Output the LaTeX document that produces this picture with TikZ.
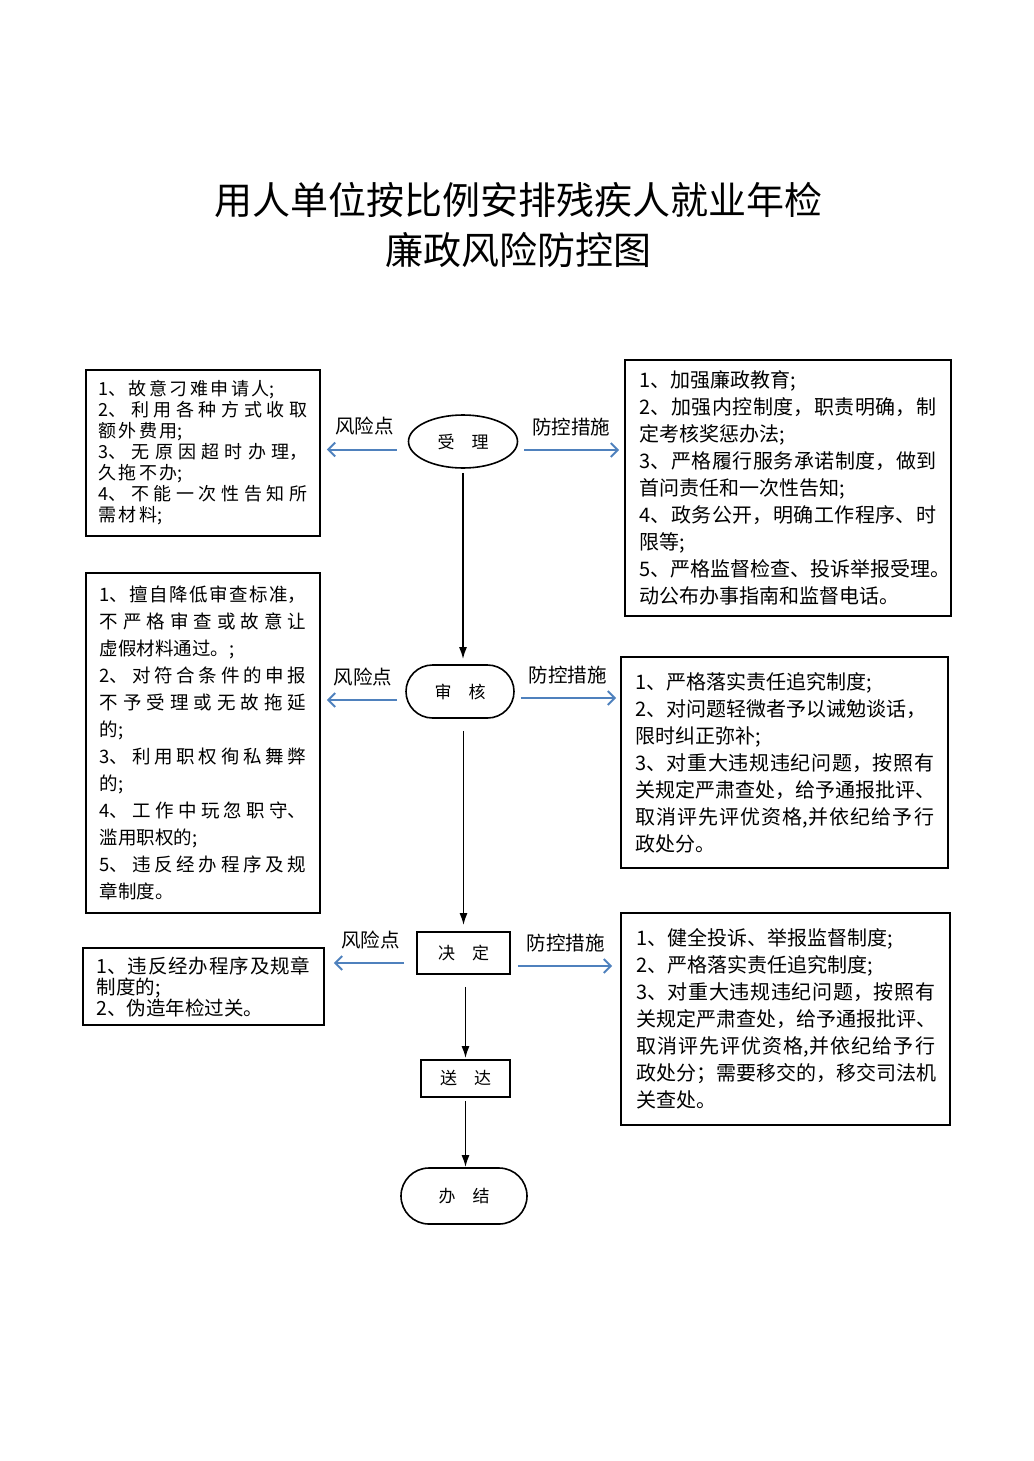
\documentclass[tikz,border=0pt]{standalone}
\usepackage{fontspec}
\setmainfont{Noto Sans CJK SC}
\XeTeXlinebreaklocale "zh"
\XeTeXlinebreakskip = 0pt plus 6pt
\tolerance = 9999
\usetikzlibrary{arrows.meta, shapes.geometric, shapes.misc}

\definecolor{arrowblue}{RGB}{79,129,189}

\newcommand{\boxfont}[2]{\fontsize{#1}{#2}\selectfont\parindent=0pt\relax}

\tikzset{
	textbox/.style = {draw, line width = 1.6pt, align = justify, inner ysep = 0pt},
	stage/.style = {draw, line width = 1.6pt, inner sep = 0pt, font = \boxfont{17}{17}},
	flow/.style = {line width = 1.8pt, -{Latex[length = 12pt, width = 8pt]}},
	bluearrow/.style = {arrowblue, line width = 2pt, -{Straight Barb[length = 7pt, width = 14pt]}},
	tag/.style = {text = black, inner sep = 0pt, above = 13pt, font = \boxfont{19.5}{19.5}}
}

\begin{document}
\begin{tikzpicture}[x = 1pt, y = -1pt]

	\useasboundingbox (0, 0) rectangle (1033, 1461);

	% Title

	\node [align = center, font = \boxfont{38}{50}] (title) at (518, 225)
		{用人单位按比例安排残疾人就业年检\\廉政风险防控图};

	% Steps

	\node [stage, ellipse, minimum width = 109pt, minimum height = 53pt] (shouli) at (463, 441.5) {受\hspace{1em}理};
	\node [stage, rounded rectangle, minimum width = 108pt, minimum height = 53pt] (shenhe) at (460, 691.5) {审\hspace{1em}核};
	\node [stage, minimum width = 93pt, minimum height = 42pt] (jueding) at (463.5, 953) {决\hspace{1em}定};
	\node [stage, minimum width = 89pt, minimum height = 37pt] (songda) at (465.5, 1078.5) {送\hspace{1em}达};
	\node [stage, rounded rectangle, minimum width = 126pt, minimum height = 56pt] (banjie) at (464, 1196) {办\hspace{1em}结};

	% Risk points

	\node [textbox, text width = 209pt, inner xsep = 12.5pt, minimum height = 166pt,
		font = {\boxfont{18}{21}\XeTeXlinebreakskip = 2.5pt plus 6pt}] (risk1) at (203, 453) {
		1、故意刁难申请人;\\
		2、利用各种方式收取\linebreak
		额外费用;\\
		3、无原因超时办理，\linebreak
		久拖不办;\\
		4、不能一次性告知所\linebreak
		需材料;};

	\node [textbox, text width = 207pt, inner xsep = 13.5pt, minimum height = 340pt, font = \boxfont{18.5}{27}] (risk2) at (203, 743) {
		1、擅自降低审查标准，\linebreak
		不严格审查或故意让\linebreak
		虚假材料通过。;\\
		2、对符合条件的申报\linebreak
		不予受理或无故拖延\linebreak
		的;\\
		3、利用职权徇私舞弊\linebreak
		的;\\
		4、工作中玩忽职守、\linebreak
		滥用职权的;\\
		5、违反经办程序及规\linebreak
		章制度。};

	\node [textbox, text width = 214pt, inner xsep = 13.5pt, minimum height = 77pt, font = \boxfont{19.5}{21}] (risk3) at (203.5, 986.5) {
		1、违反经办程序及规章\linebreak
		制度的;\\
		2、伪造年检过关。};

	% Control measures

	\node [textbox, text width = 297pt, inner xsep = 14.5pt, minimum height = 256pt, font = \boxfont{20}{27}] (ctrl1) at (788, 488) {
		1、加强廉政教育;\\
		2、加强内控制度，职责明确，制\linebreak
		定考核奖惩办法;\\
		3、严格履行服务承诺制度，做到\linebreak
		首问责任和一次性告知;\\
		4、政务公开，明确工作程序、时\linebreak
		限等;\\
		\mbox{5、严格监督检查、投诉举报受理。}\\
		动公布办事指南和监督电话。};

	\node [textbox, text width = 299pt, inner xsep = 14pt, minimum height = 211pt, font = \boxfont{20}{27}] (ctrl2) at (784.5, 762.5) {
		1、严格落实责任追究制度;\\
		2、对问题轻微者予以诫勉谈话，\\
		限时纠正弥补;\\
		3、对重大违规违纪问题，按照有\linebreak
		\mbox{关规定严肃查处，给予通报批评、}\\
		取消评先评优资格,并依纪给予行\linebreak
		政处分。};

	\node [textbox, text width = 299pt, inner xsep = 15pt, minimum height = 212pt, font = \boxfont{20}{27}] (ctrl3) at (785.5, 1019) {
		1、健全投诉、举报监督制度;\\
		2、严格落实责任追究制度;\\
		3、对重大违规违纪问题，按照有\linebreak
		\mbox{关规定严肃查处，给予通报批评、}\\
		取消评先评优资格,并依纪给予行\linebreak
		\mbox{政处分；需要移交的，移交司法机}\\
		关查处。};

	% Main flow

	\draw [flow, shorten <= 4pt, shorten >= 5pt] (shouli.south) -- (shouli.south |- shenhe.north);
	\draw [flow, shorten <= 12pt, shorten >= 6pt] (jueding.north |- shenhe.south) -- (jueding.north);
	\draw [flow, shorten <= 12pt, shorten >= 1pt] (songda.north |- jueding.south) -- (songda.north);
	\draw [flow, shorten <= 3pt] (songda.south) -- (songda.south |- banjie.north);

	% Side arrows

	\coordinate (a1) at ([yshift = -8pt] shouli.west);
	\coordinate (b1) at ([yshift = -8.5pt] shouli.east);
	\coordinate (a2) at ([yshift = -8.5pt] shenhe.west);
	\coordinate (b2) at ([yshift = -6.5pt] shenhe.east);
	\coordinate (a3) at ([yshift = -10pt] jueding.west);
	\coordinate (b3) at ([yshift = -13pt] jueding.east);

	\draw [bluearrow, shorten <= 11pt, shorten >= 6pt] (a1) -- (a1 -| risk1.east) node [tag, midway] (r1) {风险点};
	\draw [bluearrow, shorten <= 6pt, shorten >= 5pt] (b1) -- (b1 -| ctrl1.west) node [tag, midway] (c1) {防控措施};
	\draw [bluearrow, shorten <= 8pt, shorten >= 6pt] (a2) -- (a2 -| risk2.east) node [tag, midway] (r2) {风险点};
	\draw [bluearrow, shorten <= 6pt, shorten >= 4pt] (b2) -- (b2 -| ctrl2.west) node [tag, midway] (c2) {防控措施};
	\draw [bluearrow, shorten <= 12pt, shorten >= 9pt] (a3) -- (a3 -| risk3.east) node [tag, midway] (r3) {风险点};
	\draw [bluearrow, shorten <= 7pt, shorten >= 8pt] (b3) -- (b3 -| ctrl3.west) node [tag, midway] (c3) {防控措施};

\end{tikzpicture}
\end{document}
